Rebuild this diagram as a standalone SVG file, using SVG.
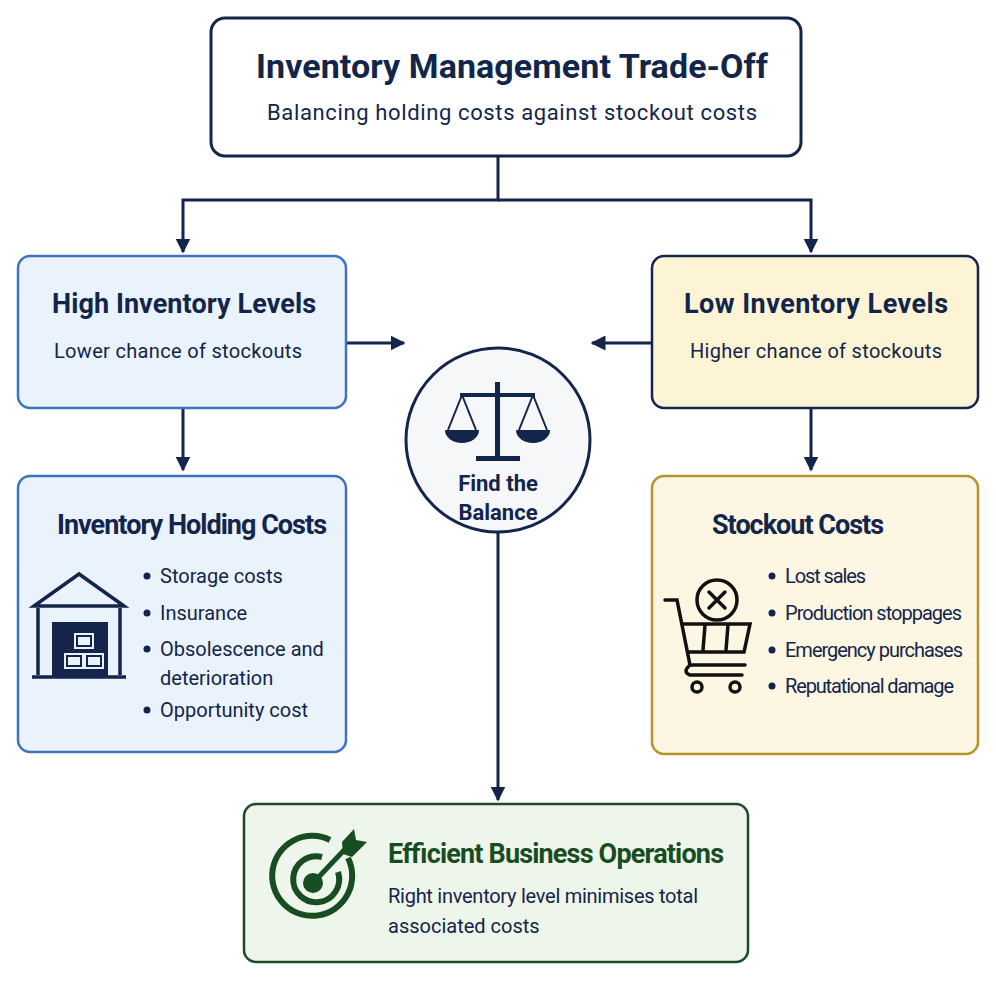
<svg xmlns="http://www.w3.org/2000/svg" width="996" height="982" viewBox="0 0 996 982">
<style>
text{font-family:Roboto,"Liberation Sans",sans-serif;fill:#13254a}
.h{font-weight:bold}
.c{stroke:#13254a;stroke-width:3;fill:none}
.nv{fill:#13254a}
</style>
<defs><marker id="a" viewBox="0 0 10 10" refX="9" refY="5" markerWidth="5" markerHeight="5" orient="auto"><path d="M0,0L10,5L0,10z" fill="#13254a"/></marker></defs>
<rect width="996" height="982" fill="#fff"/>
<g id="connectors" class="c" marker-end="url(#a)">
<path d="M498,156V200H183V252"/>
<path d="M498,200H811V252"/>
<path d="M183,408V470"/>
<path d="M811,408V470"/>
<path d="M346,343H404"/>
<path d="M652,343H592"/>
<path d="M498,532V800"/>
</g>
<g id="title">
<rect x="211" y="18" width="590" height="138" rx="14" fill="#fff" stroke="#13254a" stroke-width="3"/>
<text x="512" y="78" text-anchor="middle" class="h" font-size="34" textLength="512">Inventory Management Trade-Off</text>
<text x="512" y="120" text-anchor="middle" font-size="22" textLength="490">Balancing holding costs against stockout costs</text>
</g>
<g id="high">
<rect x="18" y="256" width="328" height="152" rx="12" fill="#eaf3fc" stroke="#3f74bd" stroke-width="2.5"/>
<text x="184" y="313" text-anchor="middle" class="h" font-size="27" textLength="264">High Inventory Levels</text>
<text x="178" y="358" text-anchor="middle" font-size="20" textLength="248">Lower chance of stockouts</text>
</g>
<g id="low">
<rect x="652" y="256" width="326" height="152" rx="12" fill="#fdf4d6" stroke="#13254a" stroke-width="2.5"/>
<text x="816" y="313" text-anchor="middle" class="h" font-size="27" textLength="264">Low Inventory Levels</text>
<text x="816" y="358" text-anchor="middle" font-size="20" textLength="252">Higher chance of stockouts</text>
</g>
<g id="balance">
<circle cx="498" cy="440" r="92" fill="#f6f7f9" stroke="#13254a" stroke-width="3"/>
<rect x="495" y="382" width="5" height="76" class="nv"/>
<rect x="460" y="393" width="75" height="4" class="nv"/>
<rect x="476" y="456" width="44" height="5" class="nv"/>
<path d="M462,395L448,430M462,395L476,430M533,395L519,430M533,395L547,430" stroke="#13254a" stroke-width="2" fill="none"/>
<path d="M445,430H479A17,13 0 0 1 445,430z" class="nv"/>
<path d="M516,430H550A17,13 0 0 1 516,430z" class="nv"/>
<text x="498" y="491" text-anchor="middle" class="h" font-size="22">Find the</text>
<text x="498" y="520" text-anchor="middle" class="h" font-size="22">Balance</text>
</g>
<g id="holding">
<rect x="18" y="476" width="328" height="276" rx="12" fill="#eaf3fc" stroke="#3f74bd" stroke-width="2.5"/>
<text x="192" y="534" text-anchor="middle" class="h" font-size="27" textLength="270">Inventory Holding Costs</text>
<g stroke="#13254a" stroke-width="3.5" fill="none">
<path d="M34,606L79,574L124,606Z"/>
<path d="M38,608V675M120,608V675M32,677H126"/>
</g>
<rect x="52" y="622" width="56" height="55" class="nv"/>
<g fill="#eaf3fc"><rect x="78" y="637" width="12" height="8"/><rect x="68" y="657" width="12" height="8"/><rect x="88" y="657" width="12" height="8"/></g>
<g stroke="#eaf3fc" stroke-width="2" fill="none"><rect x="75" y="634" width="18" height="14"/><rect x="65" y="654" width="18" height="14"/><rect x="85" y="654" width="18" height="14"/></g>
<g font-size="20"><circle cx="147" cy="576" r="3.5" class="nv"/><text x="160" y="583">Storage costs</text>
<circle cx="147" cy="613" r="3.5" class="nv"/><text x="160" y="620">Insurance</text>
<circle cx="147" cy="649" r="3.5" class="nv"/><text x="160" y="656">Obsolescence and</text><text x="160" y="685">deterioration</text>
<circle cx="147" cy="710" r="3.5" class="nv"/><text x="160" y="717">Opportunity cost</text></g>
</g>
<g id="stockout">
<rect x="652" y="476" width="326" height="278" rx="12" fill="#fdf6e2" stroke="#b8922d" stroke-width="2.5"/>
<text x="798" y="534" text-anchor="middle" class="h" font-size="27" textLength="172">Stockout Costs</text>
<g stroke="#111" stroke-width="3.5" fill="none" stroke-linecap="round">
<circle cx="717" cy="600" r="20"/><path d="M709,592L725,608M725,592L709,608"/>
<path d="M665,600H677L690,665H745"/>
<path d="M682,624H750L744,652H688"/>
<path d="M705,625L703,650M728,625L726,650"/>
<path d="M690,665Q682,672 690,675H742"/>
<circle cx="697" cy="687" r="5"/><circle cx="735" cy="687" r="5"/>
</g>
<g font-size="20"><circle cx="772" cy="576" r="3.5" class="nv"/><text x="785" y="583" textLength="81">Lost sales</text>
<circle cx="772" cy="613" r="3.5" class="nv"/><text x="785" y="620" textLength="177">Production stoppages</text>
<circle cx="772" cy="650" r="3.5" class="nv"/><text x="785" y="657" textLength="178">Emergency purchases</text>
<circle cx="772" cy="686" r="3.5" class="nv"/><text x="785" y="693" textLength="169">Reputational damage</text></g>
</g>
<g id="efficient">
<rect x="244" y="804" width="504" height="158" rx="12" fill="#eef5ea" stroke="#1d4a2a" stroke-width="2.5"/>
<g stroke="#184d22" stroke-width="6" fill="none">
<path d="M330,840A40,40 0 1 0 348,858"/>
<path d="M322,857A23,23 0 1 0 338,872"/>
</g>
<circle cx="313" cy="883" r="10" fill="#184d22"/>
<path d="M313,883L348,846" stroke="#184d22" stroke-width="5"/>
<path d="M342,842L354,829L356,840L367,842L352,857L343,854Z" fill="#184d22"/>
<text x="388" y="863" class="h" font-size="27" textLength="336" style="fill:#184d22">Efficient Business Operations</text>
<text x="388" y="903" font-size="20" textLength="310">Right inventory level minimises total</text>
<text x="388" y="933" font-size="20">associated costs</text>
</g>
</svg>
